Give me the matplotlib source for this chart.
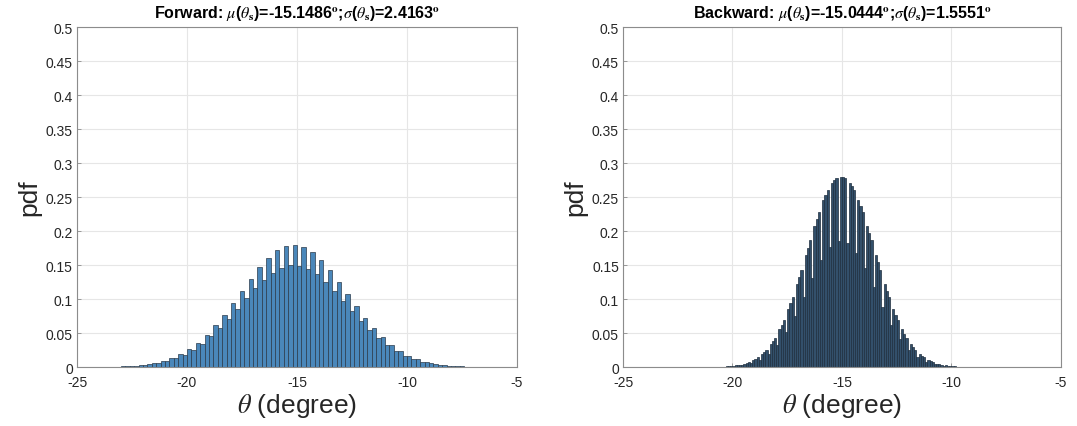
import numpy as np
import matplotlib
matplotlib.use("Agg")
import matplotlib.pyplot as plt

plt.rcParams['font.family'] = ['Liberation Sans', 'DejaVu Sans']
plt.rcParams['mathtext.fontset'] = 'stix'
plt.rcParams['axes.unicode_minus'] = False

# forward estimate : pdf-normalised histogram, 0.2 deg bins starting at -24.0
fwd_start, fwd_width = -24.0, 0.2
fwd_pdf = [0.0003, 0.0003, 0.0005, 0.0005, 0.0008, 0.0009, 0.0014, 0.0015,
           0.0023, 0.0024, 0.0036, 0.0038, 0.0057, 0.0059, 0.0087, 0.0089,
           0.0129, 0.0130, 0.0186, 0.0184, 0.0261, 0.0255, 0.0356, 0.0344,
           0.0473, 0.0451, 0.0612, 0.0575, 0.0769, 0.0713, 0.0942, 0.0861,
           0.1121, 0.1011, 0.1299, 0.1156, 0.1465, 0.1285, 0.1607, 0.1391,
           0.1715, 0.1464, 0.1781, 0.1500, 0.1799, 0.1494, 0.1769, 0.1449,
           0.1692, 0.1367, 0.1574, 0.1255, 0.1425, 0.1121, 0.1256, 0.0974,
           0.1076, 0.0823, 0.0898, 0.0677, 0.0728, 0.0542, 0.0575, 0.0422,
           0.0442, 0.0320, 0.0330, 0.0236, 0.0240, 0.0169, 0.0170, 0.0118,
           0.0117, 0.0080, 0.0078, 0.0053, 0.0051, 0.0034, 0.0032, 0.0021,
           0.0020, 0.0013, 0.0012, 0.0008, 0.0007, 0.0005, 0.0004, 0.0003,
           0.0002, 0.0002, 0.0001, 0.0001, 0.0001]

# backward estimate : 0.1 deg bins starting at -21.6
bwd_start, bwd_width = -21.6, 0.1
bwd_pdf = [0.0001, 0.0001, 0.0001, 0.0001, 0.0001,
           0.0002, 0.0002, 0.0003, 0.0002, 0.0004, 0.0005, 0.0007, 0.0006,
           0.0011, 0.0013, 0.0016, 0.0013, 0.0024, 0.0029, 0.0035, 0.0028,
           0.0051, 0.0061, 0.0073, 0.0058, 0.0102, 0.0121, 0.0141, 0.0110,
           0.0192, 0.0222, 0.0256, 0.0196, 0.0337, 0.0384, 0.0435, 0.0328,
           0.0553, 0.0620, 0.0692, 0.0512, 0.0851, 0.0937, 0.1029, 0.0749,
           0.1224, 0.1327, 0.1432, 0.1026, 0.1648, 0.1758, 0.1866, 0.1315,
           0.2078, 0.2179, 0.2276, 0.1577, 0.2452, 0.2529, 0.2598, 0.1771,
           0.2707, 0.2747, 0.2775, 0.1861, 0.2798, 0.2793, 0.2775, 0.1830,
           0.2707, 0.2658, 0.2598, 0.1685, 0.2452, 0.2367, 0.2276, 0.1452,
           0.2078, 0.1973, 0.1866, 0.1171, 0.1648, 0.1540, 0.1432, 0.0884,
           0.1224, 0.1124, 0.1029, 0.0625, 0.0851, 0.0769, 0.0692, 0.0413,
           0.0553, 0.0492, 0.0435, 0.0256, 0.0337, 0.0295, 0.0256, 0.0148,
           0.0192, 0.0165, 0.0141, 0.0080, 0.0102, 0.0087, 0.0073, 0.0041,
           0.0051, 0.0043, 0.0035, 0.0019, 0.0024, 0.0020, 0.0016, 0.0009,
           0.0011, 0.0008, 0.0007, 0.0004, 0.0004, 0.0003, 0.0003, 0.0001,
           0.0002, 0.0001, 0.0001, 0.0001, 0.0001, 0.0001, 0.0001, 0.0001,
           0.0001, 0.0001, 0.0001]

titles = [r'Forward: $\mu$($\theta_{\mathbf{s}}$)=-15.1486$^{\mathbf{o}}$;$\sigma$($\theta_{\mathbf{s}}$)=2.4163$^{\mathbf{o}}$',
          r'Backward: $\mu$($\theta_{\mathbf{s}}$)=-15.0444$^{\mathbf{o}}$;$\sigma$($\theta_{\mathbf{s}}$)=1.5551$^{\mathbf{o}}$']

xticks = [-25, -20, -15, -10, -5]
yticks = [0, 0.05, 0.1, 0.15, 0.2, 0.25, 0.3, 0.35, 0.4, 0.45, 0.5]
ylabels = ['0', '0.05', '0.1', '0.15', '0.2', '0.25', '0.3', '0.35', '0.4',
           '0.45', '0.5']

# narrow bins pile the bar edges up, so the backward panel reads darker
faces = ['#4a87ba', '#33506b']
edges = ['#2a3a4a', '#1e2e3e']
axcol = '#262626'

fig = plt.figure(figsize=(10.77, 4.27), dpi=100)
ax1 = fig.add_axes([0.0715, 0.138, 0.4085, 0.796])
ax2 = fig.add_axes([0.5785, 0.138, 0.4065, 0.796])

for ax, start, width, vals, ttl, fc, ec in zip(
        [ax1, ax2], [fwd_start, bwd_start], [fwd_width, bwd_width],
        [fwd_pdf, bwd_pdf], titles, faces, edges):
    left = start + width * np.arange(len(vals))
    ax.bar(left, vals, width=width, align='edge', color=fc,
           edgecolor=ec, linewidth=0.5, zorder=2)
    ax.set_xlim(-25, -5)
    ax.set_ylim(0, 0.5)
    ax.set_xticks(xticks)
    ax.set_yticks(yticks)
    ax.set_yticklabels(ylabels)
    ax.grid(True, color='#e6e6e6', linewidth=0.8, zorder=0)
    ax.set_axisbelow(True)
    ax.tick_params(direction='in', length=3, width=0.6, colors='#8c8c8c',
                   labelcolor=axcol, labelsize=10, pad=3)
    ax.tick_params(axis='x', pad=6)
    for sp in ax.spines.values():
        sp.set_color('#8c8c8c')
        sp.set_linewidth(0.8)
    ax.set_xlabel(r'$\theta$ (degree)', fontsize=19, color=axcol, labelpad=1)
    ax.set_ylabel('pdf', fontsize=19, color=axcol, labelpad=3)
    ax.set_title(ttl, fontsize=11.5, fontweight='bold', color='k', pad=7)

fig.savefig('out.png', dpi=100, facecolor='white')
